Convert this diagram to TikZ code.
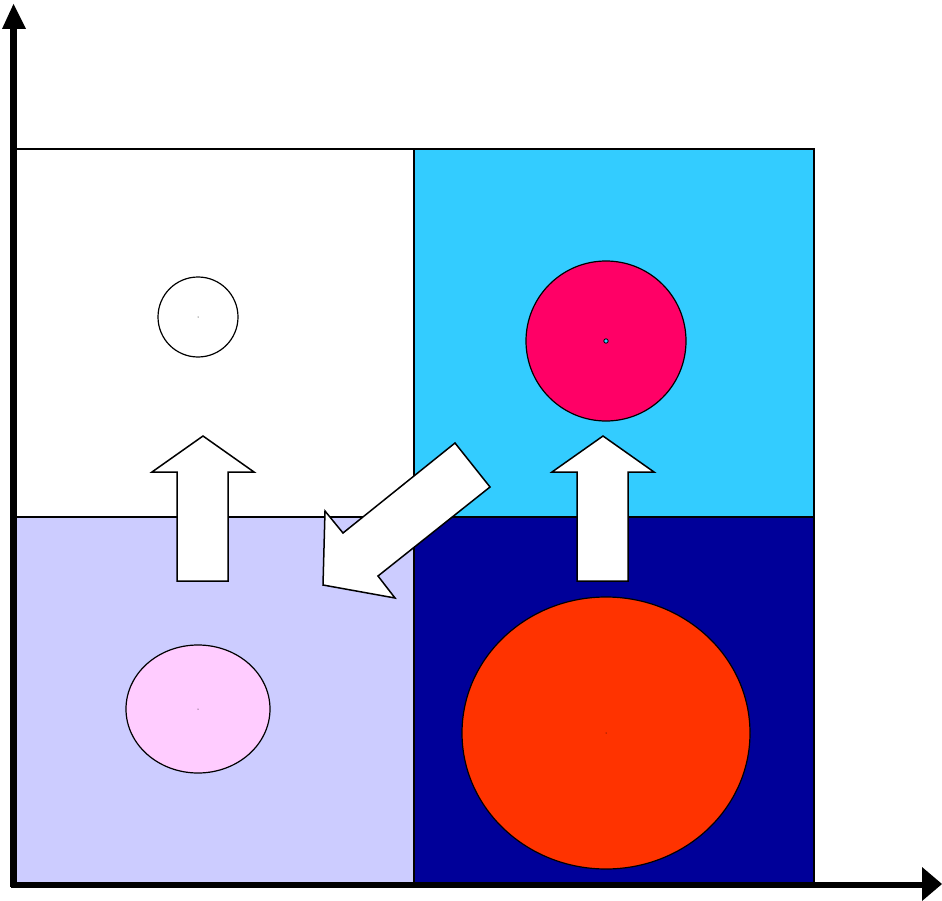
\documentclass[tikz,border=0pt]{standalone}
\begin{document}
\begin{tikzpicture}[x=1pt,y=-1pt,
  quad/.style={draw=black,line width=1.5pt},
  blob/.style={draw=black,line width=1.2pt},
  blockarrow/.style={draw=black,fill=white,line width=1.5pt,line join=miter},
  axis/.style={line width=6.5pt}]
\definecolor{cyanq}{HTML}{33CCFF}
\definecolor{lavq}{HTML}{CCCCFF}
\definecolor{navyq}{HTML}{000099}
\definecolor{rosec}{HTML}{FF0066}
\definecolor{pinkc}{HTML}{FFCCFF}
\definecolor{orangec}{HTML}{FF3300}
\useasboundingbox (0,0) rectangle (942,901);
% quadrants
\fill[white] (14,149) rectangle (414,517);
\fill[cyanq] (414,149) rectangle (814,517);
\fill[lavq] (14,517) rectangle (414,885);
\fill[navyq] (414,517) rectangle (814,885);
\draw[quad] (14,149) rectangle (814,885);
\draw[quad] (414,149) -- (414,885);
\draw[quad] (14,517) -- (814,517);
% circles
\draw[blob,fill=white] (198,317) circle (40);
\fill (198,317) circle (0.5);
\draw[blob,fill=rosec] (606,341) circle (80);
\draw[line width=0.8pt,fill=cyanq] (606,341) circle (2.2);
\draw[blob,fill=pinkc] (198,709) ellipse [x radius=72,y radius=64];
\fill (198,709) circle (0.5);
\draw[blob,fill=orangec] (606,733) ellipse [x radius=144,y radius=136];
\fill (606,733) circle (0.5);
% block arrows
\draw[blockarrow] (203,436) -- (254,472) -- (228,472) -- (228,581) -- (177,581) -- (177,472) -- (152,472) -- cycle;
\draw[blockarrow] (603,436) -- (654,472) -- (628,472) -- (628,581) -- (577,581) -- (577,472) -- (552,472) -- cycle;
\draw[blockarrow] (455,443) -- (490,487) -- (378,576) -- (395,598) -- (323,585) -- (325,511) -- (343,533) -- cycle;
% axes
\draw[axis] (13.5,887) -- (13.5,26);
\fill (2,29) -- (13.5,4) -- (26,29) -- cycle;
\draw[axis] (10.5,885) -- (924,885);
\fill (922,867) -- (942,884) -- (922,901) -- cycle;
\end{tikzpicture}
\end{document}
